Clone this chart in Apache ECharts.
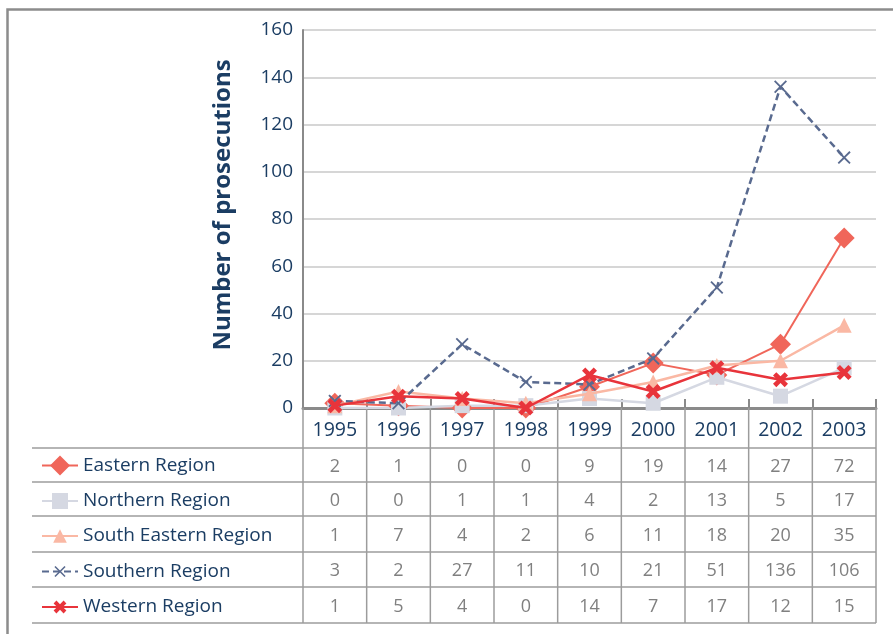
<!DOCTYPE html>
<html>
<head>
<meta charset="utf-8">
<script src="https://cdn.jsdelivr.net/npm/echarts@6/dist/echarts.min.js"></script>
<style>
html,body{margin:0;padding:0;background:#fff;}
#main{width:893px;height:634px;}
</style>
</head>
<body>
<div id="main"></div>
<script>
// ---- data ----
const years = ['1995','1996','1997','1998','1999','2000','2001','2002','2003'];
const seriesNames = ['Eastern Region','Northern Region','South Eastern Region','Southern Region','Western Region'];
const eastern      = [2, 1, 0, 0, 9, 19, 14, 27, 72];
const northern     = [0, 0, 1, 1, 4, 2, 13, 5, 17];
const southEastern = [1, 7, 4, 2, 6, 11, 18, 20, 35];
const southern     = [3, 2, 27, 11, 10, 21, 51, 136, 106];
const western      = [1, 5, 4, 0, 14, 7, 17, 12, 15];
const yTicks = [0, 20, 40, 60, 80, 100, 120, 140, 160];
const yAxisTitle = 'Number of prosecutions';

const allValues = [eastern, northern, southEastern, southern, western];

// ---- styles ----
const FONT = '"Open Sans", "Noto Sans", sans-serif';
const NAVY = '#1b3d63';
const GRAYTXT = '#808080';
const LINEGRAY = '#9c9c9c';
const colors = ['#f0665a', '#d5d8e2', '#fab8a4', '#596a8f', '#e8343b'];
const thickX = 'path://M0,2.2 L2.2,0 L5,2.8 L7.8,0 L10,2.2 L7.2,5 L10,7.8 L7.8,10 L5,7.2 L2.2,10 L0,7.8 L2.8,5 Z';
const thinX = 'path://M0,1 L1,0 L5,4 L9,0 L10,1 L6,5 L10,9 L9,10 L5,6 L1,10 L0,9 L4,5 Z';
const symbols = ['diamond', 'rect', 'triangle', thinX, thickX];
const symbolSizes = [21, 15, 15, 13, 15];
const lineWidths = [2, 2.5, 2.5, 2.5, 2.5];
const lineTypes = ['solid', 'solid', 'solid', [7, 4], 'solid'];
const legendItemHeights = [25, 20, 17, 14, 16];

const rowLines = [448, 482, 516, 552, 587, 623];
const rowCenters = rowLines.slice(0, 5).map((v, i) => (v + rowLines[i + 1]) / 2);

const chart = echarts.init(document.getElementById('main'), null, {renderer: 'canvas'});

const series = seriesNames.map((name, i) => ({
  name: name,
  type: 'line',
  data: allValues[i],
  symbol: symbols[i],
  symbolSize: symbolSizes[i],
  showAllSymbol: true,
  itemStyle: {color: colors[i], opacity: 1},
  lineStyle: {color: colors[i], width: lineWidths[i], type: lineTypes[i]},
  emphasis: {disabled: true},
  animation: false,
  z: [2, 2, 3, 4, 5][i]
}));

const legends = seriesNames.map((name, i) => ({
  data: [name],
  left: 41,
  top: rowCenters[i] + 2 - Math.max(legendItemHeights[i], 22) / 2,
  padding: 0,
  itemWidth: 36,
  itemHeight: legendItemHeights[i],
  selectedMode: false,
  textStyle: {color: NAVY, fontSize: 19, fontFamily: FONT, lineHeight: 22}
}));

chart.setOption({
  animation: false,
  backgroundColor: '#fff',
  grid: {left: 303, right: 17, top: 30, bottom: 226, containLabel: false},
  legend: legends,
  xAxis: {
    type: 'category',
    data: years,
    boundaryGap: true,
    axisLine: {lineStyle: {color: '#8a8a8a', width: 3}},
    axisTick: {show: true, inside: true, length: 9, alignWithLabel: false, lineStyle: {color: '#8a8a8a', width: 2}},
    axisLabel: {color: NAVY, fontSize: 19.5, fontFamily: FONT, margin: 12},
    splitLine: {show: false}
  },
  yAxis: {
    type: 'value',
    min: yTicks[0],
    max: yTicks[yTicks.length - 1],
    interval: yTicks[1] - yTicks[0],
    name: yAxisTitle,
    nameLocation: 'middle',
    nameRotate: 90,
    nameGap: 68,
    nameTextStyle: {color: NAVY, fontSize: 24, fontWeight: 'bold', fontFamily: FONT, padding: [0, 0, 0, 28]},
    axisLine: {show: true, lineStyle: {color: '#8a8a8a', width: 2}},
    axisTick: {show: false},
    axisLabel: {color: NAVY, fontSize: 19, fontFamily: FONT, margin: 10},
    splitLine: {lineStyle: {color: '#c9c9c9', width: 1.5}}
  },
  series: series
});

// ---- data table drawn beneath the axis, aligned to the category scale ----
const centers = years.map((y, i) => chart.convertToPixel({xAxisIndex: 0}, i));
const band = centers[1] - centers[0];
const bounds = centers.map(c => c - band / 2).concat([centers[centers.length - 1] + band / 2]);
const axisY = chart.convertToPixel({yAxisIndex: 0}, 0);

const g = [];
// frame
g.push({type: 'polyline', shape: {points: [[7.5, 634], [7.5, 9.5], [893, 9.5]]}, style: {stroke: '#8c8c8c', lineWidth: 2.5, fill: null}, silent: true});
// vertical table lines
bounds.forEach(x => {
  g.push({type: 'line', shape: {x1: x, y1: axisY, x2: x, y2: rowLines[rowLines.length - 1]}, style: {stroke: LINEGRAY, lineWidth: 1.5}, silent: true, z: 1});
});
// horizontal table lines
rowLines.forEach(y => {
  g.push({type: 'line', shape: {x1: 32, y1: y, x2: bounds[bounds.length - 1], y2: y}, style: {stroke: LINEGRAY, lineWidth: 1.5}, silent: true, z: 1});
});
// values
allValues.forEach((vals, r) => {
  vals.forEach((v, c) => {
    g.push({type: 'text', x: centers[c], y: rowCenters[r] + 1.5, silent: true,
      style: {text: String(v), fill: GRAYTXT, font: '18px ' + FONT, align: 'center', verticalAlign: 'middle'}});
  });
});

chart.setOption({graphic: g});
</script>
</body>
</html>
